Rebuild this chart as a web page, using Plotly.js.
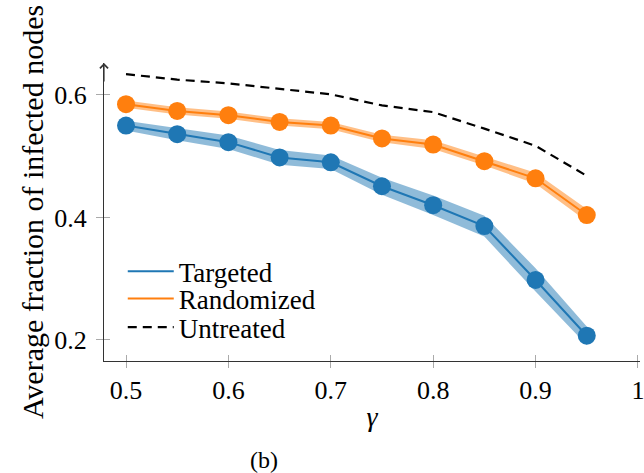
<!DOCTYPE html>
<html>
<head>
<meta charset="utf-8">
<script src="https://cdn.plot.ly/plotly-3.0.1.min.js"></script>
<style>html,body{margin:0;padding:0;background:#fff;}#chart{width:644px;height:473px;}</style>
</head>
<body>
<div id="chart"></div>
<script>
// ---- data ----
const gamma = [0.5, 0.55, 0.6, 0.65, 0.7, 0.75, 0.8, 0.85, 0.9, 0.95];
const targeted = [0.550, 0.536, 0.523, 0.498, 0.490, 0.451, 0.420, 0.386, 0.298, 0.207];
const targetedErr = [0.008, 0.010, 0.011, 0.012, 0.011, 0.014, 0.016, 0.017, 0.019, 0.015];
const randomized = [0.585, 0.574, 0.567, 0.556, 0.550, 0.529, 0.519, 0.492, 0.464, 0.404];
const randomizedErr = [0.006, 0.006, 0.006, 0.006, 0.006, 0.006, 0.007, 0.007, 0.009, 0.010];
const untreated = [0.634, 0.625, 0.619, 0.610, 0.601, 0.583, 0.572, 0.545, 0.517, 0.468];
const seriesNames = ['Targeted', 'Randomized', 'Untreated'];
const xTicks = [0.5, 0.6, 0.7, 0.8, 0.9, 1];
const xTickText = ['0.5', '0.6', '0.7', '0.8', '0.9', '1'];
const yTicks = [0.2, 0.4, 0.6];
const yTickText = ['0.2', '0.4', '0.6'];

const BLUE = '#1f77b4', ORANGE = '#ff7f0e';
const FONT = 'Liberation Serif';

function band(vals, errs, color, fillcolor) {
  const up = vals.map((v, i) => v + errs[i]);
  const lo = vals.map((v, i) => v - errs[i]);
  return [
    {x: gamma, y: up, mode: 'lines', line: {width: 0, color: color}, showlegend: false, hoverinfo: 'skip'},
    {x: gamma, y: lo, mode: 'lines', line: {width: 0, color: color}, fill: 'tonexty', fillcolor: fillcolor, showlegend: false, hoverinfo: 'skip'}
  ];
}

const traces = [
  ...band(targeted, targetedErr, BLUE, 'rgba(31,119,180,0.5)'),
  ...band(randomized, randomizedErr, ORANGE, 'rgba(255,127,14,0.5)'),
  {x: gamma, y: targeted, name: seriesNames[0], mode: 'lines', line: {color: BLUE, width: 2}, legend: 'legend'},
  {x: gamma, y: randomized, name: seriesNames[1], mode: 'lines', line: {color: ORANGE, width: 2}, legend: 'legend2'},
  {x: gamma, y: targeted, mode: 'markers', marker: {color: BLUE, size: 18}, showlegend: false},
  {x: gamma, y: randomized, mode: 'markers', marker: {color: ORANGE, size: 18}, showlegend: false},
  {x: gamma, y: untreated, name: seriesNames[2], mode: 'lines', line: {color: '#000', width: 2.2, dash: '9px,6px'}, legend: 'legend3'}
];

const legendBase = {
  x: 0.035, xanchor: 'left', yanchor: 'middle',
  bgcolor: 'rgba(0,0,0,0)', borderwidth: 0,
  font: {family: FONT, size: 27, color: '#000'},
  itemwidth: 46
};

const layout = {
  width: 644, height: 473,
  margin: {l: 104, r: 4, t: 63, b: 112, autoexpand: false},
  paper_bgcolor: '#fff', plot_bgcolor: '#fff',
  font: {family: FONT, color: '#000'},
  showlegend: true,
  legend: Object.assign({}, legendBase, {y: 0.30}),
  legend2: Object.assign({}, legendBase, {y: 0.208}),
  legend3: Object.assign({}, legendBase, {y: 0.112}),
  xaxis: {
    range: [0.4785, 1.002], automargin: true,
    tickvals: xTicks, ticktext: xTickText, ticklabeloverflow: 'allow',
    ticks: 'outside', ticklen: 6, tickcolor: '#aaa', tickwidth: 1,
    showline: true, linecolor: '#333', linewidth: 1,
    showgrid: false, zeroline: false,
    tickfont: {family: FONT, size: 26, color: '#000'},
    title: {text: '<i>γ</i>', font: {family: FONT, size: 28, color: '#000'}, standoff: 2}
  },
  xaxis2: {
    overlaying: 'x', matches: 'x', range: [0.4785, 1.002],
    tickvals: xTicks, showticklabels: false,
    ticks: 'inside', ticklen: 6, tickcolor: '#aaa', tickwidth: 1,
    showline: false, showgrid: false, zeroline: false
  },
  yaxis: {
    range: [0.1657, 0.6522], automargin: true,
    tickvals: yTicks, ticktext: yTickText, ticklabelstandoff: 4,
    ticks: 'outside', ticklen: 7, tickcolor: '#aaa', tickwidth: 1,
    showline: true, linecolor: '#333', linewidth: 1,
    showgrid: false, zeroline: false,
    tickfont: {family: FONT, size: 26, color: '#000'},
    title: {text: 'Average fraction of infected nodes', font: {family: FONT, size: 30, color: '#000'}, standoff: 1}
  },
  yaxis2: {
    overlaying: 'y', matches: 'y', range: [0.1657, 0.6522],
    tickvals: yTicks, showticklabels: false,
    ticks: 'inside', ticklen: 6, tickcolor: '#aaa', tickwidth: 1,
    showline: false, showgrid: false, zeroline: false
  },
  annotations: [
    {xref: 'paper', yref: 'paper', x: 0, y: 1, ax: 0, ay: 20, axref: 'pixel', ayref: 'pixel',
     text: '', showarrow: true, arrowhead: 4, arrowsize: 1.3, arrowwidth: 1.2, arrowcolor: '#333', standoff: 0},
    {xref: 'paper', yref: 'paper', x: (264 - 104) / 536, y: -(460 - 361) / 298, xanchor: 'center', yanchor: 'middle',
     text: '(b)', showarrow: false, font: {family: FONT, size: 24, color: '#000'}}
  ]
};

// invisible anchor trace so the inside-tick overlay axes are drawn
traces.push({x: [gamma[0]], y: [targeted[0]], xaxis: 'x2', yaxis: 'y2', mode: 'markers', marker: {opacity: 0}, showlegend: false, hoverinfo: 'skip'});

Plotly.newPlot('chart', traces, layout, {displayModeBar: false, staticPlot: true});
</script>
</body>
</html>
